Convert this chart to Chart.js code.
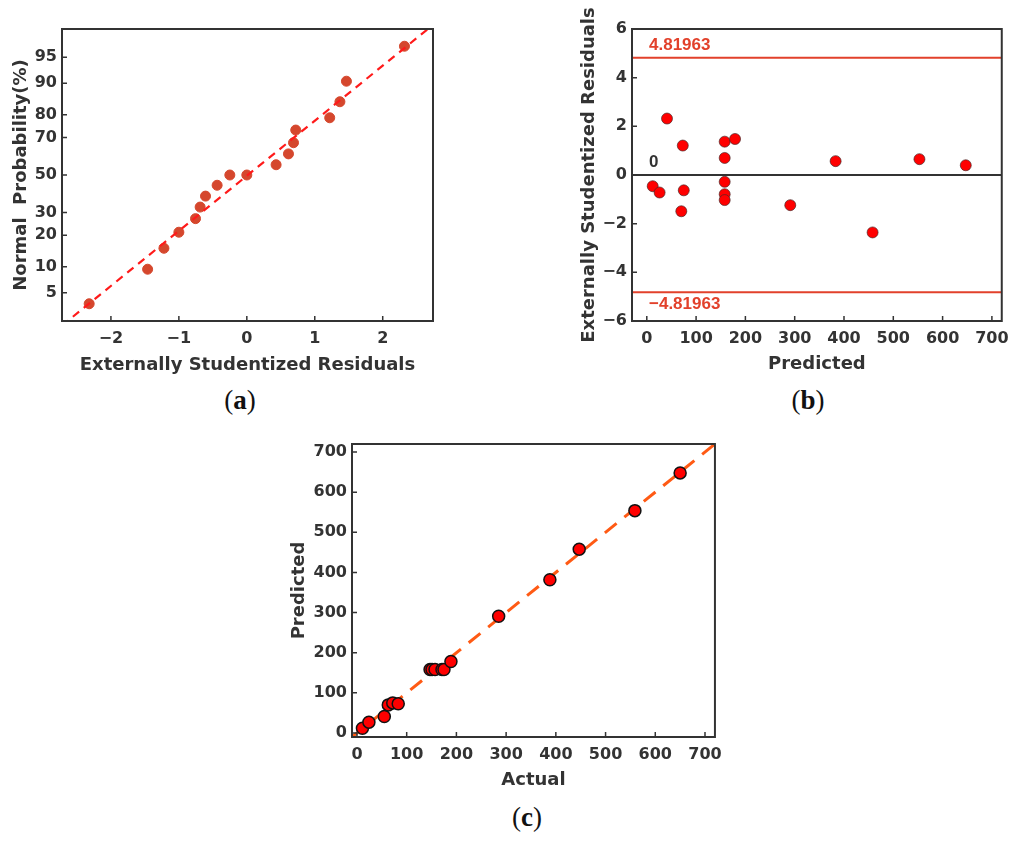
<!DOCTYPE html>
<html>
<head>
<meta charset="utf-8">
<script src="https://cdn.jsdelivr.net/npm/chart.js@4.4.0/dist/chart.umd.min.js"></script>
<style>
  body { margin: 0; background: #fff; }
  #page { position: relative; width: 1017px; height: 841px; }
  .panel { position: absolute; }
  .cap { position: absolute; font-family: 'Liberation Serif', 'Times New Roman', serif; font-size: 27px; color: #111; transform: translate(-50%, -50%); }
  .cap b { font-weight: bold; }
</style>
</head>
<body>
<div id="page">
  <div class="panel" style="left:0;top:0;width:445px;height:380px"><canvas id="chartA"></canvas></div>
  <div class="panel" style="left:560px;top:0;width:457px;height:380px"><canvas id="chartB"></canvas></div>
  <div class="panel" style="left:270px;top:420px;width:460px;height:380px"><canvas id="chartC"></canvas></div>
  <div class="cap" style="left:240px;top:400px">(<b>a</b>)</div>
  <div class="cap" style="left:808px;top:400px">(<b>b</b>)</div>
  <div class="cap" style="left:527px;top:817px">(<b>c</b>)</div>
</div>
<script>
// (a) normal probability plot
const residA = [-2.32, -1.46, -1.22, -1.00, -0.755, -0.687, -0.608, -0.437, -0.25, 0.0, 0.431, 0.613, 0.687, 0.72, 1.22, 1.37, 1.466, 2.32]
const probA = [3.6, 9.4, 15.3, 21.2, 27.1, 32.7, 38.4, 44.3, 50.0, 50.0, 55.7, 61.6, 67.4, 73.5, 78.8, 84.7, 90.5, 96.4]
const fitAResid = [-2.72, 2.74]
const fitAProb = [1.77, 98.2]
const residTicks = [-2, -1, 0, 1, 2]
const probTicks = [5, 10, 20, 30, 50, 70, 80, 90, 95]

// (b) residuals vs predicted
const predB = [12, 26, 41, 73, 75, 70, 158, 179, 158, 158, 158, 158, 291, 383, 458, 553, 647]
const residB = [-0.46, -0.72, 2.32, 1.21, -0.63, -1.49, 1.37, 1.48, 0.70, -0.28, -0.79, -1.03, -1.24, 0.57, -2.36, 0.65, 0.40]
const limitB = 4.81963
const predTicks = [0, 100, 200, 300, 400, 500, 600, 700]
const studTicks = [-6, -4, -2, 0, 2, 4, 6]

// (c) predicted vs actual
const actualC = [11, 24, 55, 63, 72, 83, 147, 151, 157, 171, 175, 189, 285, 388, 447, 559, 650]
const predictedC = [12, 27, 41, 70, 75, 73, 158, 158, 158, 158, 158, 178, 291, 382, 458, 554, 648]
const fitC = [-10, 720]
const actualTicks = [0, 100, 200, 300, 400, 500, 600, 700]

const limitColor = "#e2412b"
const tickFont = { family: "'DejaVu Sans', sans-serif", size: 16, weight: "bold" }
const titleFont = { family: "'DejaVu Sans', sans-serif", size: 18, weight: "bold" }
Chart.defaults.color = "#333"

// inverse normal cdf (Acklam) for the probability axis
function probit(p) {
  const a = [-39.69683028665376, 220.9460984245205, -275.9285104469687, 138.357751867269, -30.66479806614716, 2.506628277459239]
  const b = [-54.47609879822406, 161.5858368580409, -155.6989798598866, 66.80131188771972, -13.28068155288572]
  const c = [-0.007784894002430293, -0.3223964580411365, -2.400758277161838, -2.549732539343734, 4.374664141464968, 2.938163982698783]
  const d = [0.007784695709041462, 0.3224671290700398, 2.445134137142996, 3.754408661907416]
  const pl = 0.02425
  let q, r
  if (p < pl) {
    q = Math.sqrt(-2 * Math.log(p))
    return (((((c[0] * q + c[1]) * q + c[2]) * q + c[3]) * q + c[4]) * q + c[5]) / ((((d[0] * q + d[1]) * q + d[2]) * q + d[3]) * q + 1)
  }
  if (p > 1 - pl) {
    q = Math.sqrt(-2 * Math.log(1 - p))
    return -(((((c[0] * q + c[1]) * q + c[2]) * q + c[3]) * q + c[4]) * q + c[5]) / ((((d[0] * q + d[1]) * q + d[2]) * q + d[3]) * q + 1)
  }
  q = p - 0.5
  r = q * q
  return (((((a[0] * r + a[1]) * r + a[2]) * r + a[3]) * r + a[4]) * r + a[5]) * q / (((((b[0] * r + b[1]) * r + b[2]) * r + b[3]) * r + b[4]) * r + 1)
}

const minus = (v) => String(v).replace("-", "\u2212")

// box around the plot + inward tick marks
const framePlugin = {
  id: "frame",
  afterDatasetsDraw(chart) {
    const { ctx, chartArea: a, scales } = chart
    ctx.save()
    ctx.strokeStyle = "#333"
    ctx.lineWidth = 1.5
    ctx.beginPath()
    scales.x.ticks.forEach((t) => {
      const px = scales.x.getPixelForValue(t.value)
      ctx.moveTo(px, a.bottom)
      ctx.lineTo(px, a.bottom - 5)
    })
    scales.y.ticks.forEach((t) => {
      const py = scales.y.getPixelForValue(t.value)
      ctx.moveTo(a.left, py)
      ctx.lineTo(a.left + 5, py)
    })
    ctx.stroke()
    ctx.lineWidth = 2
    ctx.strokeRect(a.left, a.top, a.right - a.left, a.bottom - a.top)
    ctx.restore()
  },
}

function axis(opts) {
  return {
    type: "linear",
    min: opts.min,
    max: opts.max,
    afterBuildTicks: (s) => { s.ticks = opts.ticks.map((v) => ({ value: v })) },
    afterFit: (s) => { if (opts.width) s.width = opts.width; if (opts.height) s.height = opts.height },
    grid: { display: true, drawOnChartArea: false, drawTicks: false },
    border: { display: false },
    ticks: { font: tickFont, color: "#333", padding: opts.pad, autoSkip: false, maxRotation: 0, callback: opts.label || minus },
    title: { display: true, text: opts.title, font: titleFont, color: "#333", padding: opts.titlePad },
  }
}

// (a)
new Chart(document.getElementById("chartA"), {
  type: "scatter",
  data: {
    datasets: [
      {
        data: residA.map((x, i) => ({ x, y: probit(probA[i] / 100) })),
        backgroundColor: "#d5472d",
        borderColor: "#d5472d",
        pointRadius: 5,
        order: 1,
      },
      {
        type: "line",
        data: fitAResid.map((x, i) => ({ x, y: probit(fitAProb[i] / 100) })),
        borderColor: "#ff1a1a",
        borderWidth: 2.2,
        borderDash: [8, 6],
        pointRadius: 0,
        order: 0,
      },
    ],
  },
  options: {
    responsive: true,
    maintainAspectRatio: false,
    animation: false,
    layout: { padding: { top: 29, right: 12, left: 0, bottom: 0 } },
    plugins: { legend: { display: false }, tooltip: { enabled: false } },
    scales: {
      x: axis({ min: -2.72, max: 2.74, ticks: residTicks, height: 59, pad: 8, title: "Externally Studentized Residuals", titlePad: { top: 0, bottom: 4 } }),
      y: axis({
        min: -2.04, max: 2.04, ticks: probTicks.map((p) => probit(p / 100)), width: 62, pad: 5,
        label: (v, i) => String(probTicks[i]),
        title: "Normal  Probability(%)", titlePad: { top: 11, bottom: 0 },
      }),
    },
  },
  plugins: [framePlugin],
})

// (b)
const limitLabels = {
  id: "limitLabels",
  afterDatasetsDraw(chart) {
    const { ctx, chartArea: a, scales: { y } } = chart
    ctx.save()
    ctx.font = "bold 17px 'Liberation Sans', Arial, sans-serif"
    ctx.textAlign = "left"
    ctx.fillStyle = limitColor
    ctx.textBaseline = "bottom"
    ctx.fillText(String(limitB), a.left + 17, y.getPixelForValue(limitB) - 4)
    ctx.textBaseline = "top"
    ctx.fillText("\u2212" + limitB, a.left + 17, y.getPixelForValue(-limitB) + 4)
    ctx.fillStyle = "#333"
    ctx.textBaseline = "bottom"
    ctx.fillText("0", a.left + 17, y.getPixelForValue(0) - 4)
    ctx.restore()
  },
}
const xMinB = -30
const xMaxB = 720
new Chart(document.getElementById("chartB"), {
  type: "scatter",
  data: {
    datasets: [
      {
        data: predB.map((x, i) => ({ x, y: residB[i] })),
        backgroundColor: "#ff0000",
        borderColor: "rgba(70,40,40,0.85)",
        borderWidth: 0.8,
        pointRadius: 5.5,
        order: 0,
      },
      { type: "line", data: [{ x: xMinB, y: limitB }, { x: xMaxB, y: limitB }], borderColor: limitColor, borderWidth: 2, pointRadius: 0, order: 1 },
      { type: "line", data: [{ x: xMinB, y: -limitB }, { x: xMaxB, y: -limitB }], borderColor: limitColor, borderWidth: 2, pointRadius: 0, order: 1 },
      { type: "line", data: [{ x: xMinB, y: 0 }, { x: xMaxB, y: 0 }], borderColor: "#333", borderWidth: 2, pointRadius: 0, order: 1 },
    ],
  },
  options: {
    responsive: true,
    maintainAspectRatio: false,
    animation: false,
    layout: { padding: { top: 29, right: 15, left: 0, bottom: 0 } },
    plugins: { legend: { display: false }, tooltip: { enabled: false } },
    scales: {
      x: axis({ min: xMinB, max: xMaxB, ticks: predTicks, height: 59, pad: 8, title: "Predicted", titlePad: { top: 0, bottom: 5 } }),
      y: axis({ min: -6, max: 6, ticks: studTicks, width: 72, pad: 5, title: "Externally Studentized Residuals", titlePad: { top: 19, bottom: 0 } }),
    },
  },
  plugins: [framePlugin, limitLabels],
})

// (c)
new Chart(document.getElementById("chartC"), {
  type: "scatter",
  data: {
    datasets: [
      {
        data: actualC.map((x, i) => ({ x, y: predictedC[i] })),
        backgroundColor: "#ff0000",
        borderColor: "#111",
        borderWidth: 1.5,
        pointRadius: 6,
        order: 0,
      },
      {
        type: "line",
        data: fitC.map((v) => ({ x: v, y: v })),
        borderColor: "#ff5a14",
        borderWidth: 3,
        borderDash: [15, 10],
        pointRadius: 0,
        order: 1,
      },
    ],
  },
  options: {
    responsive: true,
    maintainAspectRatio: false,
    animation: false,
    layout: { padding: { top: 24, right: 11, left: 0, bottom: 0 } },
    plugins: { legend: { display: false }, tooltip: { enabled: false } },
    scales: {
      x: axis({ min: -10, max: 720, ticks: actualTicks, height: 63, pad: 8, title: "Actual", titlePad: { top: 0, bottom: 9 } }),
      y: axis({ min: -10, max: 720, ticks: predTicks, width: 82, pad: 5, title: "Predicted", titlePad: { top: 19, bottom: 0 } }),
    },
  },
  plugins: [framePlugin],
})
</script>
</body>
</html>
